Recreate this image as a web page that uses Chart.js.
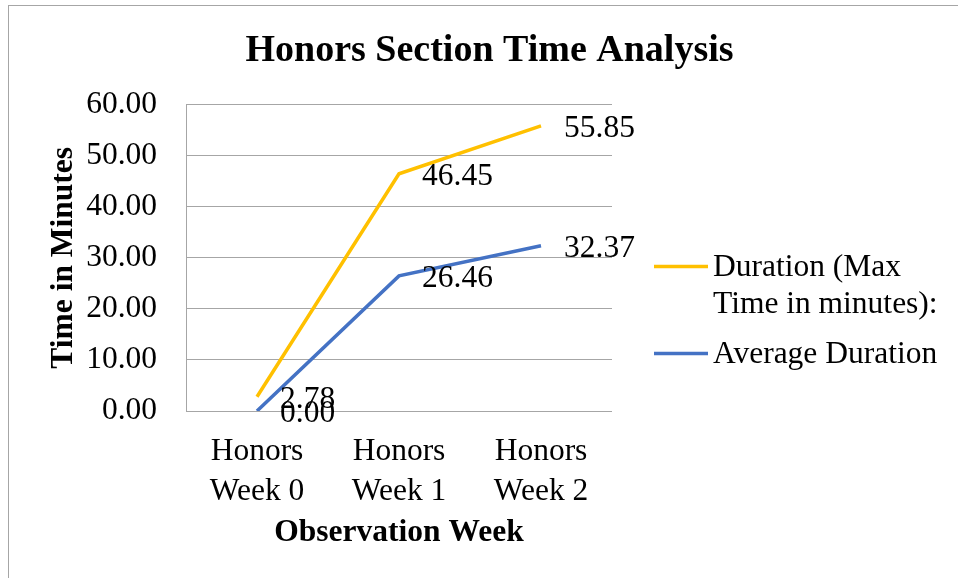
<!DOCTYPE html>
<html>
<head>
<meta charset="utf-8">
<script src="https://cdn.jsdelivr.net/npm/chart.js@4"></script>
<style>
  body { margin: 0; background: #fff; }
  canvas { display: block; }
</style>
</head>
<body>
<canvas id="chart" width="958" height="578"></canvas>
<script>
// values
const weeks = [['Honors', 'Week 0'], ['Honors', 'Week 1'], ['Honors', 'Week 2']];
const maxDuration = [2.78, 46.45, 55.85];
const avgDuration = [0.00, 26.46, 32.37];
const yTicks = [0, 10, 20, 30, 40, 50, 60];

const serif = 'Liberation Serif, Times New Roman, serif';

// little frame round the chart (left and top only show)
const frame = {
  id: 'frame',
  beforeDraw(chart) {
    const ctx = chart.ctx;
    ctx.save();
    ctx.fillStyle = '#fff';
    ctx.fillRect(0, 0, chart.width, chart.height);
    ctx.strokeStyle = '#a6a6a6';
    ctx.lineWidth = 1;
    ctx.strokeRect(8.5, 5.5, 1200, 1200);
    ctx.restore();
  }
};

// value labels to the right of each point
const valueLabels = {
  id: 'valueLabels',
  afterDatasetsDraw(chart) {
    const ctx = chart.ctx;
    ctx.save();
    ctx.font = '31.5px ' + serif;
    ctx.fillStyle = '#000';
    ctx.textAlign = 'left';
    ctx.textBaseline = 'middle';
    chart.data.datasets.forEach((ds, i) => {
      chart.getDatasetMeta(i).data.forEach((pt, j) => {
        ctx.fillText(ds.data[j].toFixed(2), pt.x + 23, pt.y + 3);
      });
    });
    ctx.restore();
  }
};

// legend on the right, with a wrapped first label
const sideLegend = {
  id: 'sideLegend',
  afterDraw(chart) {
    const ctx = chart.ctx;
    const a = chart.chartArea;
    const rows = [162, 249];
    const lines = [['Duration (Max', 'Time in minutes):'], ['Average Duration']];
    ctx.save();
    ctx.font = '31.5px ' + serif;
    ctx.fillStyle = '#000';
    ctx.textAlign = 'left';
    ctx.textBaseline = 'middle';
    chart.data.datasets.forEach((ds, i) => {
      const y = a.top + rows[i];
      ctx.strokeStyle = ds.borderColor;
      ctx.lineWidth = 3.5;
      ctx.beginPath();
      ctx.moveTo(a.right + 42, y);
      ctx.lineTo(a.right + 96, y);
      ctx.stroke();
      lines[i].forEach((t, k) => ctx.fillText(t, a.right + 101, y + 1 + k * 37));
    });
    ctx.restore();
  }
};

new Chart(document.getElementById('chart'), {
  type: 'line',
  data: {
    labels: weeks,
    datasets: [{
      label: 'Duration (Max Time in minutes):',
      data: maxDuration,
      borderColor: '#FFC000',
      borderWidth: 3.5,
      pointRadius: 0,
      tension: 0
    }, {
      label: 'Average Duration',
      data: avgDuration,
      borderColor: '#4472C4',
      borderWidth: 3.5,
      pointRadius: 0,
      tension: 0
    }]
  },
  options: {
    responsive: false,
    devicePixelRatio: 1,
    animation: false,
    layout: { padding: { left: 21, right: 0, top: 0, bottom: 0 } },
    plugins: {
      legend: { display: false },
      tooltip: { enabled: false },
      title: {
        display: true,
        text: 'Honors Section Time Analysis',
        color: '#000',
        font: { family: serif, size: 38, weight: 'bold', lineHeight: 1.2 },
        padding: { top: 28, bottom: 31 }
      }
    },
    scales: {
      x: {
        offset: true,
        grid: { display: false },
        border: { display: false },
        ticks: {
          color: '#000',
          padding: 13,
          maxRotation: 0,
          font: { family: serif, size: 31.5, lineHeight: 1.27 }
        },
        title: {
          display: true,
          text: 'Observation Week',
          color: '#000',
          font: { family: serif, size: 31.5, weight: 'bold', lineHeight: 1.2 },
          padding: { top: 0, bottom: 26 }
        },
        afterFit(scale) { scale.height = 167; }
      },
      y: {
        min: 0,
        max: 60,
        afterBuildTicks(scale) { scale.ticks = yTicks.map(v => ({ value: v })); },
        grid: { color: '#a6a6a6', lineWidth: 1, drawTicks: false },
        border: { display: true, color: '#a6a6a6' },
        ticks: {
          color: '#000',
          padding: 29,
          font: { family: serif, size: 31.5 },
          callback: v => v.toFixed(2)
        },
        title: {
          display: true,
          text: 'Time in Minutes',
          color: '#000',
          font: { family: serif, size: 31.5, weight: 'bold', lineHeight: 1.2 },
          padding: { top: 24, bottom: 0 }
        },
        afterFit(scale) { scale.width = 165; }
      },
      // empty right axis: keeps room for the legend
      side: {
        position: 'right',
        display: true,
        grid: { display: false },
        border: { display: false },
        ticks: { display: false },
        afterFit(scale) { scale.width = 346; }
      }
    }
  },
  plugins: [frame, valueLabels, sideLegend]
});
</script>
</body>
</html>
